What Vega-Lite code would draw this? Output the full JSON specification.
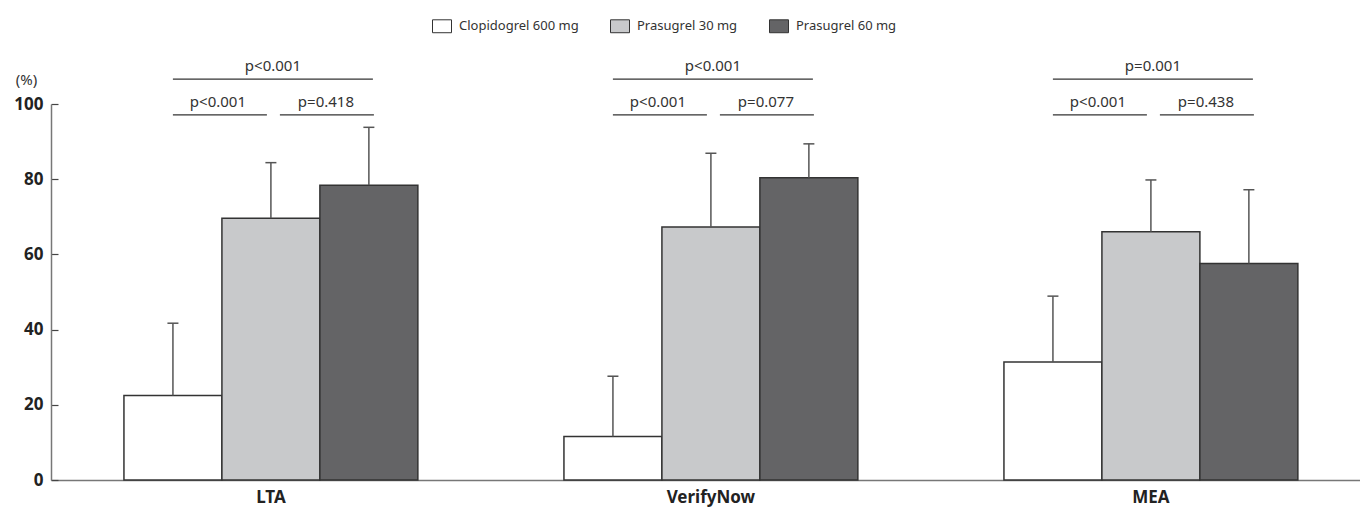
{
  "$schema": "https://vega.github.io/schema/vega-lite/v6.json",
  "width": 1309,
  "height": 376,
  "autosize": {"type": "none"},
  "padding": {"left": 51, "top": 104, "right": 0, "bottom": 27},
  "config": {"view": {"stroke": null}, "font": "Noto Sans", "axis": {"grid": false}},
  "datasets": {
    "bars": [
      {"test": "LTA", "drug": "Clopidogrel 600 mg", "mean": 22.5, "upper": 41.7},
      {"test": "LTA", "drug": "Prasugrel 30 mg", "mean": 69.6, "upper": 84.4},
      {"test": "LTA", "drug": "Prasugrel 60 mg", "mean": 78.4, "upper": 93.8},
      {"test": "VerifyNow", "drug": "Clopidogrel 600 mg", "mean": 11.6, "upper": 27.6},
      {"test": "VerifyNow", "drug": "Prasugrel 30 mg", "mean": 67.3, "upper": 86.9},
      {"test": "VerifyNow", "drug": "Prasugrel 60 mg", "mean": 80.4, "upper": 89.4},
      {"test": "MEA", "drug": "Clopidogrel 600 mg", "mean": 31.4, "upper": 48.9},
      {"test": "MEA", "drug": "Prasugrel 30 mg", "mean": 66.0, "upper": 79.8},
      {"test": "MEA", "drug": "Prasugrel 60 mg", "mean": 57.6, "upper": 77.2}
    ],
    "pvals": [
      {"test": "LTA", "cmp": "all", "p": "p<0.001"},
      {"test": "LTA", "cmp": "C-P30", "p": "p<0.001"},
      {"test": "LTA", "cmp": "P30-P60", "p": "p=0.418"},
      {"test": "VerifyNow", "cmp": "all", "p": "p<0.001"},
      {"test": "VerifyNow", "cmp": "C-P30", "p": "p<0.001"},
      {"test": "VerifyNow", "cmp": "P30-P60", "p": "p=0.077"},
      {"test": "MEA", "cmp": "all", "p": "p=0.001"},
      {"test": "MEA", "cmp": "C-P30", "p": "p<0.001"},
      {"test": "MEA", "cmp": "P30-P60", "p": "p=0.438"}
    ]
  },
  "encoding": {
    "x": {
      "field": "test", "type": "nominal", "sort": ["LTA", "VerifyNow", "MEA"],
      "scale": {"paddingInner": 0.332, "paddingOuter": 0.1535, "align": 0.54},
      "axis": {"title": null, "labelAngle": 0, "ticks": false, "labelFontSize": 17, "labelFontWeight": "bold", "labelColor": "#222", "labelPadding": 9, "domainColor": "#777", "domainWidth": 1.5}
    }
  },
  "layer": [
    {
      "data": {"name": "bars"},
      "mark": {"type": "bar", "stroke": "#333", "strokeWidth": 1.5},
      "encoding": {
        "xOffset": {"field": "drug", "type": "nominal", "sort": ["Clopidogrel 600 mg", "Prasugrel 30 mg", "Prasugrel 60 mg"], "scale": {"paddingInner": 0, "paddingOuter": 0}},
        "y": {
          "field": "mean", "type": "quantitative", "scale": {"domain": [0, 100], "nice": false},
          "axis": {"values": [0, 20, 40, 60, 80, 100], "title": "(%)", "titleAngle": 0, "titleX": -25, "titleY": -25, "titleAlign": "center", "titleBaseline": "middle", "titleFontSize": 15, "titleFontWeight": "normal", "titleColor": "#333", "labelFontSize": 17, "labelFontWeight": "bold", "labelColor": "#222", "tickSize": -7, "tickColor": "#444", "tickWidth": 1.2, "domainColor": "#777", "domainWidth": 1.5, "labelPadding": 15}
        },
        "color": {
          "field": "drug", "type": "nominal",
          "scale": {"domain": ["Clopidogrel 600 mg", "Prasugrel 30 mg", "Prasugrel 60 mg"], "range": ["#ffffff", "#c8c9cb", "#646466"]},
          "legend": {"orient": "none", "legendX": 381, "legendY": -88, "direction": "horizontal", "title": null, "symbolType": "M-1,-0.68H1V0.68H-1Z", "symbolSize": 361, "symbolStrokeColor": "#333", "symbolStrokeWidth": 1, "symbolOpacity": 1, "labelFontSize": 13, "labelColor": "#333", "labelOffset": 7, "columnPadding": 29}
        }
      }
    },
    {
      "data": {"name": "bars"},
      "mark": {"type": "rule", "color": "#555", "strokeWidth": 1.5},
      "encoding": {
        "xOffset": {"field": "drug", "type": "nominal", "sort": ["Clopidogrel 600 mg", "Prasugrel 30 mg", "Prasugrel 60 mg"]},
        "y": {"field": "upper", "type": "quantitative"},
        "y2": {"field": "mean"}
      }
    },
    {
      "data": {"name": "bars"},
      "mark": {"type": "tick", "color": "#555", "thickness": 1.5, "size": 11, "opacity": 1},
      "encoding": {
        "xOffset": {"field": "drug", "type": "nominal", "sort": ["Clopidogrel 600 mg", "Prasugrel 30 mg", "Prasugrel 60 mg"]},
        "y": {"field": "upper", "type": "quantitative"}
      }
    },
    {
      "data": {"name": "pvals"},
      "transform": [{"filter": "datum.cmp == 'all'"}],
      "mark": {"type": "tick", "color": "#333", "thickness": 1.3, "size": 200, "xOffset": 2, "opacity": 1},
      "encoding": {"y": {"datum": 106.6}}
    },
    {
      "data": {"name": "pvals"},
      "transform": [{"filter": "datum.cmp == 'C-P30'"}],
      "mark": {"type": "tick", "color": "#333", "thickness": 1.3, "size": 94, "xOffset": -51, "opacity": 1},
      "encoding": {"y": {"datum": 97.1}}
    },
    {
      "data": {"name": "pvals"},
      "transform": [{"filter": "datum.cmp == 'P30-P60'"}],
      "mark": {"type": "tick", "color": "#333", "thickness": 1.3, "size": 94, "xOffset": 56, "opacity": 1},
      "encoding": {"y": {"datum": 97.1}}
    },
    {
      "data": {"name": "pvals"},
      "transform": [{"filter": "datum.cmp == 'all'"}],
      "mark": {"type": "text", "color": "#333", "fontSize": 15, "dx": 2, "baseline": "alphabetic", "align": "center"},
      "encoding": {"y": {"datum": 108.8}, "text": {"field": "p"}}
    },
    {
      "data": {"name": "pvals"},
      "transform": [{"filter": "datum.cmp == 'C-P30'"}],
      "mark": {"type": "text", "color": "#333", "fontSize": 15, "dx": -53, "baseline": "alphabetic", "align": "center"},
      "encoding": {"y": {"datum": 99.3}, "text": {"field": "p"}}
    },
    {
      "data": {"name": "pvals"},
      "transform": [{"filter": "datum.cmp == 'P30-P60'"}],
      "mark": {"type": "text", "color": "#333", "fontSize": 15, "dx": 55, "baseline": "alphabetic", "align": "center"},
      "encoding": {"y": {"datum": 99.3}, "text": {"field": "p"}}
    }
  ]
}
